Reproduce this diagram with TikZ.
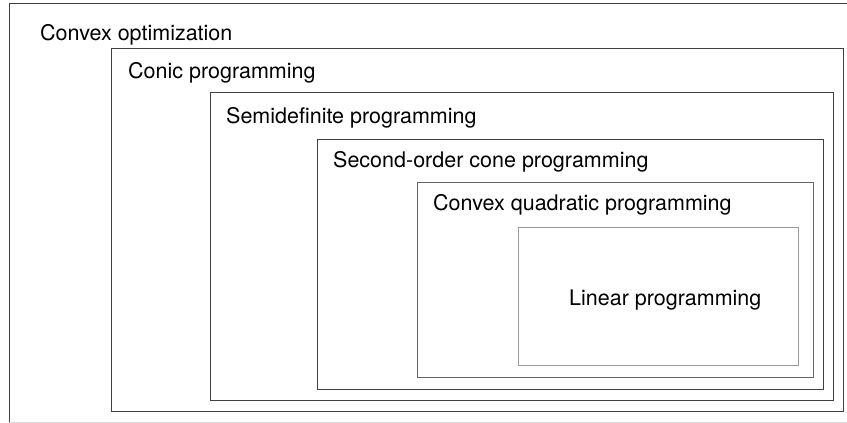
\documentclass[tikz,border=0pt]{standalone}
\usepackage{fontspec}
\setmainfont{TeX Gyre Heros}
\usepackage{tikz}

\begin{document}
\begin{tikzpicture}[x=1pt, y=-1pt,
  box/.style={draw=black!75, line width=0.9pt, inner sep=0pt, outer sep=0pt, anchor=north west},
  lbl/.style={anchor=base west, inner sep=0pt, font=\fontsize{21.5}{26}\selectfont}]
\useasboundingbox (0,0) rectangle (847,423);
\clip (0,0) rectangle (847,423);

% Outer frame (cut off at the right)
\coordinate (cvxsw) at (9,422);
\coordinate (cvxnw) at (9,3);
\coordinate (cvxne) at (860,3);
\draw[black!75, line width=0.9pt] (cvxsw) -- (cvxnw) -- (cvxne);
\draw[black!15, line width=0.9pt] (cvxsw) -- ++(850,0);
\node[lbl] (cvxtxt) at (40,40) {Convex optimization};

% Conic
\node[box, minimum width=732pt, minimum height=363pt] (conic) at (111,48) {};
\node[lbl] (conictxt) at (128,78) {Conic programming};

% Semidefinite
\node[box, minimum width=623pt, minimum height=308pt] (sdp) at (210,92) {};
\node[lbl] (sdptxt) at (226,123) {Semidefinite programming};

% Second-order cone
\node[box, minimum width=506pt, minimum height=250pt] (socp) at (317,139) {};
\node[lbl] (socptxt) at (333,167) {Second-order cone programming};

% Convex quadratic
\node[box, draw=black!60, minimum width=396pt, minimum height=195pt] (cqp) at (417,182) {};
\node[lbl] (cqptxt) at (433,210) {Convex quadratic programming};

% Linear
\node[box, draw=black!40, minimum width=280pt, minimum height=138pt] (lp) at (518,227) {};
\node[lbl] (lptxt) at (569,305) {Linear programming};
\end{tikzpicture}
\end{document}
